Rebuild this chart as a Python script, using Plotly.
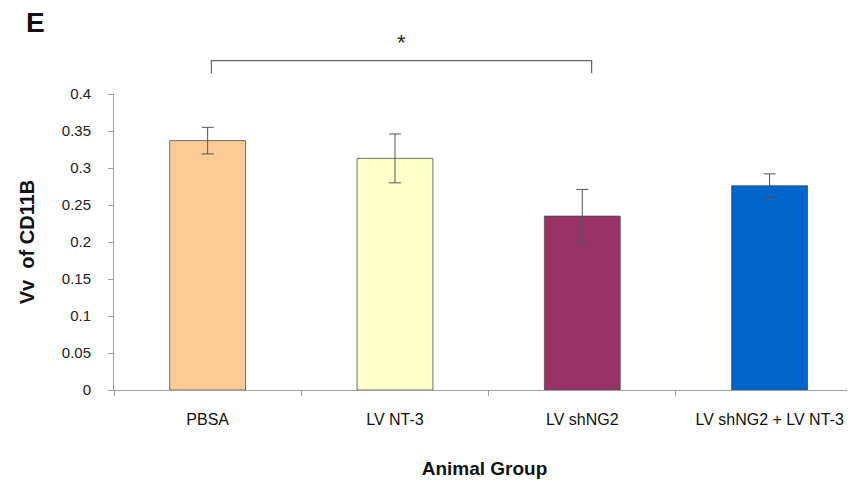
import plotly.graph_objects as go

groups = ["PBSA", "LV NT-3", "LV shNG2", "LV shNG2 + LV NT-3"]
means = [0.337, 0.313, 0.235, 0.276]
errors = [0.018, 0.033, 0.036, 0.016]
colors = ["#FECB96", "#FFFFCC", "#993366", "#0066CC"]
y_ticks = [0, 0.05, 0.1, 0.15, 0.2, 0.25, 0.3, 0.35, 0.4]
y_tick_text = ["0", "0.05", "0.1", "0.15", "0.2", "0.25", "0.3", "0.35", "0.4"]

# significance bracket (between PBSA and LV shNG2)
sig_from, sig_to = 0.02, 2.05
sig_top, sig_bottom = 0.445, 0.428
sig_star_y = 0.469
y_max = 0.4

FONT = "Liberation Sans, Arial, sans-serif"

fig = go.Figure()
fig.add_trace(go.Bar(
    x=groups, y=means,
    marker=dict(color=colors, line=dict(color="rgba(70,70,70,0.75)", width=1)),
    width=0.405,
    error_y=dict(type="data", array=errors, visible=True,
                 color="#555555", thickness=1, width=6),
    showlegend=False,
))

# bracket in x-data / paper-y coordinates so it can sit above the plot area
fig.add_shape(type="path", xref="x", yref="paper",
              path=f"M {sig_from},{sig_bottom / y_max} L {sig_from},{sig_top / y_max} "
                   f"L {sig_to},{sig_top / y_max} L {sig_to},{sig_bottom / y_max}",
              line=dict(color="#666666", width=1.2))
fig.add_annotation(x=(sig_from + sig_to) / 2, y=sig_star_y / y_max, xref="x", yref="paper",
                   xanchor="center", yanchor="middle",
                   text="*", showarrow=False,
                   font=dict(family=FONT, size=22, color="#222"))
fig.add_annotation(x=(35 - 114) / 741, y=(390 - 22) / 296, xref="paper", yref="paper",
                   xanchor="center", yanchor="middle",
                   text="<b>E</b>", showarrow=False,
                   font=dict(family=FONT, size=28, color="#111"))

fig.update_layout(
    width=847, height=481,
    margin=dict(l=106, r=0, t=86, b=99),
    plot_bgcolor="white", paper_bgcolor="white",
    font=dict(family=FONT, color="#111"),
    bargap=0.6,
)
fig.update_xaxes(
    type="category", range=[-0.5, 3.456],
    showline=True, linecolor="#a0a0a0", linewidth=1,
    ticks="outside", tickson="boundaries", ticklen=5, tickcolor="#a0a0a0",
    tickfont=dict(size=16, color="#111"), ticklabelstandoff=15,
    title=dict(text="<b>Animal Group</b>", font=dict(size=19, color="#111"), standoff=34),
    showgrid=False, zeroline=False,
)
fig.update_yaxes(
    range=[0, y_max], tickmode="array", tickvals=y_ticks, ticktext=y_tick_text,
    showline=True, linecolor="#a0a0a0", linewidth=1,
    ticks="outside", ticklen=5, tickcolor="#a0a0a0",
    tickfont=dict(size=15, color="#222"), ticklabelstandoff=14,
    title=dict(text="<b>Vv  of CD11B</b>", font=dict(size=20, color="#111"), standoff=21),
    showgrid=False, zeroline=False,
)

fig.write_html("out.html")
